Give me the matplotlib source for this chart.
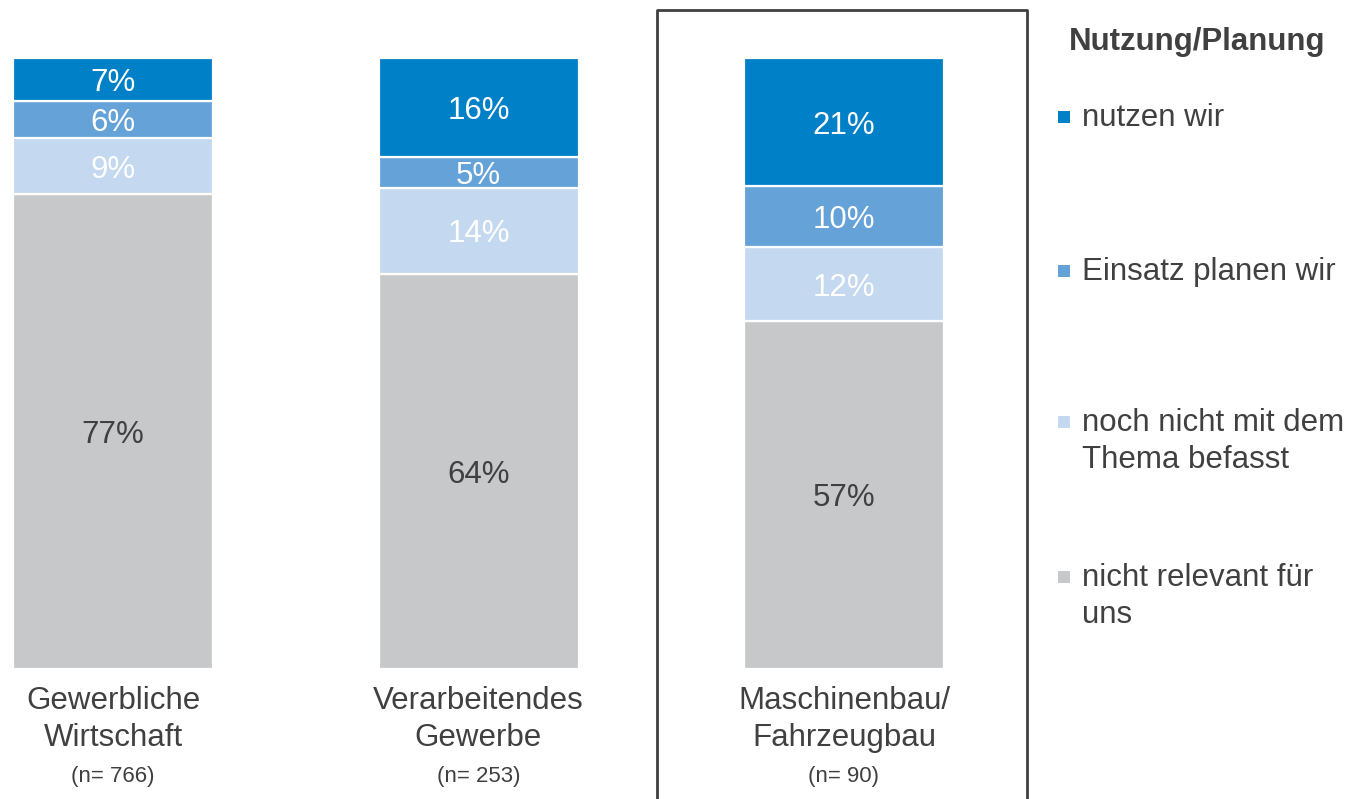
import matplotlib
matplotlib.use("Agg")
import matplotlib.pyplot as plt
from matplotlib.patches import Rectangle
import numpy as np

plt.rcParams['font.family'] = ['Liberation Sans', 'DejaVu Sans']

categories = ["Gewerbliche\nWirtschaft", "Verarbeitendes\nGewerbe", "Maschinenbau/\nFahrzeugbau"]
sample_sizes = ["(n= 766)", "(n= 253)", "(n= 90)"]
series_names = ["nicht relevant für\nuns", "noch nicht mit dem\nThema befasst", "Einsatz planen wir", "nutzen wir"]
nicht_relevant = [77, 64, 57]
noch_nicht = [9, 14, 12]
einsatz_planen = [6, 5, 10]
nutzen = [7, 16, 21]
legend_title = "Nutzung/Planung"

colors = ["#C7C8CA", "#C4D8EF", "#64A2D7", "#0080C6"]
label_colors = ["#404040", "white", "white", "white"]
txt = "#404040"
FS = 22.5

W, H = 1353, 799
fig = plt.figure(figsize=(W / 100, H / 100), dpi=100)

# axes: x data unit = 365.5 px, bar 0 center at px 113; y 0 at px 669, 100 at px 58
x_lo, x_hi = -0.3, 2.3
unit = 365.5
left_px = 113 + x_lo * unit
right_px = 113 + x_hi * unit
ax = fig.add_axes([left_px / W, (H - 669) / H, (right_px - left_px) / W, (669 - 58) / H])
ax.set_xlim(x_lo, x_hi)
ax.set_ylim(0, 100)
ax.axis('off')

series = np.array([nicht_relevant, noch_nicht, einsatz_planen, nutzen], dtype=float)
totals = series.sum(axis=0)
shares = series / totals * 100
x = np.arange(len(categories))
bw = 200 / unit
bottom = np.zeros(len(categories))
for i in range(len(series)):
    ax.bar(x, shares[i], bw, bottom=bottom, color=colors[i], edgecolor='white', linewidth=1.6)
    for j in range(len(categories)):
        ax.annotate(f"{int(series[i][j])}%", xy=(x[j], bottom[j] + shares[i][j] / 2),
                    xytext=(0, -0.37 * FS), textcoords='offset points',
                    ha='center', va='baseline', fontsize=FS, color=label_colors[i])
    bottom += shares[i]

# category labels
for j in range(len(categories)):
    ax.text(x[j], -2.8, categories[j], ha='center', va='top', fontsize=FS,
            color=txt, linespacing=1.3)
    ax.text(x[j], -15.8, sample_sizes[j], ha='center', va='top', fontsize=16, color=txt)

# highlight box around third category
bx0, bx1, by_top = 657, 1027, 10
fig.add_artist(plt.Line2D([bx0 / W, bx0 / W, bx1 / W, bx1 / W],
                          [-0.01, 1 - by_top / H, 1 - by_top / H, -0.01],
                          transform=fig.transFigure, color="#404040", linewidth=2))

# legend
fig.text(1197 / W, 1 - 42 / H, legend_title, ha='center', va='center',
         fontsize=FS, fontweight='bold', color=txt)
legend_order = [3, 2, 1, 0]
legend_y = [117, 271, 422, 577]
for k, idx in enumerate(legend_order):
    yc = legend_y[k]
    fig.add_artist(Rectangle((1058 / W, 1 - (yc + 6) / H), 12 / W, 12 / H,
                             transform=fig.transFigure, facecolor=colors[idx],
                             edgecolor='none'))
    fig.text(1082 / W, 1 - (yc - 14) / H, series_names[idx], ha='left', va='top',
             fontsize=FS, color=txt, linespacing=1.3)

fig.savefig("out.png", dpi=100)
